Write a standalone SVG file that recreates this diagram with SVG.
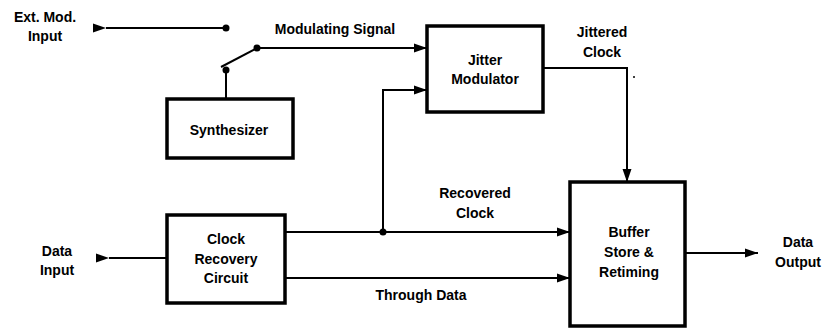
<svg xmlns="http://www.w3.org/2000/svg" width="829" height="329" viewBox="0 0 829 329">
<style>
.box{fill:#fff;stroke:#000;stroke-width:3.5}
.ln{fill:none;stroke:#000;stroke-width:2}
.t{font-family:"Liberation Sans",Arial,sans-serif;font-weight:bold;font-size:14px;fill:#000;text-anchor:middle}
.dot{fill:#000}
</style>
<defs>
<marker id="ah" markerUnits="userSpaceOnUse" markerWidth="14" markerHeight="10" refX="13" refY="5" orient="auto">
<path d="M0,0.5 L13,5 L0,9.5 Z" fill="#000"/>
</marker>
</defs>
<rect width="829" height="329" fill="#fff"/>
<g id="connectors">
<path class="ln" d="M106,28 H226" marker-start="url(#ah)"/>
<path class="ln" d="M257,48 H427" marker-end="url(#ah)"/>
<path class="ln" d="M257,48 L221,67"/>
<path class="ln" d="M226,70 V99"/>
<path class="ln" d="M383,232 V90 H427" marker-end="url(#ah)"/>
<path class="ln" d="M543,68 H627 V182" marker-end="url(#ah)"/>
<path class="ln" d="M285,232 H570" marker-end="url(#ah)"/>
<path class="ln" d="M285,278 H570" marker-end="url(#ah)"/>
<path class="ln" d="M109,258 H167" marker-start="url(#ah)"/>
<path class="ln" d="M685,253 H758" marker-end="url(#ah)"/>
<circle class="dot" cx="226" cy="28" r="3.5"/>
<circle class="dot" cx="257" cy="48" r="3.5"/>
<circle class="dot" cx="226" cy="70" r="3.5"/>
<circle class="dot" cx="383" cy="232" r="3.5"/>
<circle class="dot" cx="634" cy="77" r="1"/>
</g>
<g id="ext-mod-input"><text class="t" x="45" y="22">Ext. Mod.</text><text class="t" x="45" y="41">Input</text></g>
<g id="modulating-signal"><text class="t" x="335" y="34">Modulating Signal</text></g>
<g id="synthesizer"><rect class="box" x="167" y="99" width="126" height="59"/><text class="t" x="229" y="135">Synthesizer</text></g>
<g id="jitter-modulator"><rect class="box" x="427" y="26" width="116" height="86"/><text class="t" x="485" y="65">Jitter</text><text class="t" x="485" y="84">Modulator</text></g>
<g id="jittered-clock"><text class="t" x="602" y="37">Jittered</text><text class="t" x="602" y="57">Clock</text></g>
<g id="clock-recovery"><rect class="box" x="167" y="215" width="118" height="88"/><text class="t" x="226" y="244">Clock</text><text class="t" x="226" y="264">Recovery</text><text class="t" x="226" y="283">Circuit</text></g>
<g id="recovered-clock"><text class="t" x="475" y="198">Recovered</text><text class="t" x="475" y="218">Clock</text></g>
<g id="through-data"><text class="t" x="421" y="300">Through Data</text></g>
<g id="buffer-store"><rect class="box" x="570" y="182" width="115" height="144"/><text class="t" x="629" y="237">Buffer</text><text class="t" x="629" y="257">Store &amp;</text><text class="t" x="629" y="277">Retiming</text></g>
<g id="data-input"><text class="t" x="57" y="256">Data</text><text class="t" x="57" y="275">Input</text></g>
<g id="data-output"><text class="t" x="798" y="247">Data</text><text class="t" x="798" y="267">Output</text></g>
</svg>
